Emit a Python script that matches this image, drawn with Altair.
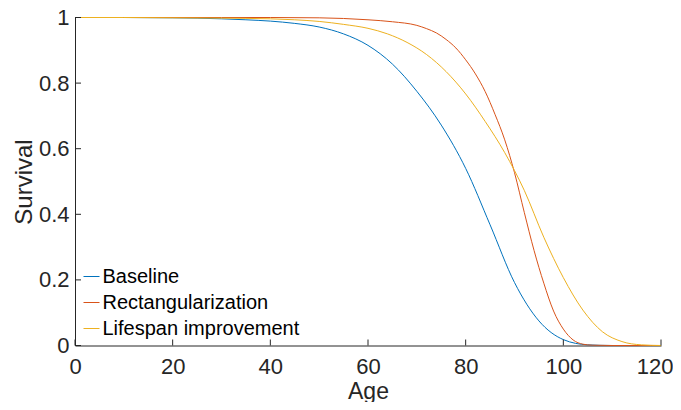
import altair as alt
import pandas as pd

series_names = ["Baseline", "Rectangularization", "Lifespan improvement"]
series_colors = ["#0072BD", "#D95319", "#EDB120"]

ages_baseline = [0, 10, 20, 25, 30, 35, 40, 45, 50, 55, 60, 65, 70, 75, 80, 85, 90, 95, 100, 105, 110, 115, 120]
surv_baseline = [1.0, 1.0, 0.999, 0.998, 0.996, 0.993, 0.989, 0.982, 0.971, 0.950, 0.915, 0.858, 0.775,
                 0.672, 0.540, 0.368, 0.192, 0.075, 0.018, 0.002, 0.0, 0.0, 0.0]

ages_rect = [0, 10, 20, 30, 40, 50, 55, 60, 65, 70, 72, 74, 76, 78, 80, 82, 84, 86, 88, 90, 92, 94, 96,
             98, 100, 102, 104, 106, 110, 120]
surv_rect = [1.0, 1.0, 1.0, 1.0, 1.0, 0.999, 0.997, 0.993, 0.987, 0.976, 0.966, 0.953, 0.933, 0.907,
             0.871, 0.828, 0.774, 0.705, 0.627, 0.527, 0.406, 0.290, 0.190, 0.105, 0.050, 0.017,
             0.004, 0.001, 0.0, 0.0]

ages_life = [0, 10, 20, 30, 40, 45, 50, 55, 60, 64, 68, 72, 76, 80, 84, 88, 92, 96, 100, 104, 108,
             112, 116, 120]
surv_life = [1.0, 1.0, 0.999, 0.998, 0.996, 0.993, 0.988, 0.979, 0.967, 0.950, 0.924, 0.887, 0.835,
             0.767, 0.683, 0.588, 0.473, 0.330, 0.207, 0.108, 0.042, 0.012, 0.002, 0.0]

x_ticks = [0, 20, 40, 60, 80, 100, 120]
y_ticks = [0, 0.2, 0.4, 0.6, 0.8, 1]

rows = []
for name, ages, surv in zip(series_names,
                            [ages_baseline, ages_rect, ages_life],
                            [surv_baseline, surv_rect, surv_life]):
    for a, s in zip(ages, surv):
        rows.append({"series": name, "age": a, "survival": s})
df = pd.DataFrame(rows)

W, H = 586, 328
FONT = "Liberation Sans"
AX = "#262626"

xscale = alt.Scale(domain=[0, 120], nice=False)
yscale = alt.Scale(domain=[0, 1], nice=False)

x_axis = alt.Axis(values=x_ticks, title="Age", ticks=False, grid=False,
                  labelFlush=False, labelOverlap=False,
                  labelAlign={"condition": {"test": "datum.value >= 120", "value": "right"},
                              "value": "center"},
                  labelOffset={"condition": {"test": "datum.value >= 120", "value": 12},
                               "value": 0},
                  labelPadding=10.5, labelFontSize=22, labelFont=FONT, labelColor=AX,
                  domainColor=AX, titleFontSize=23, titleFont=FONT, titleColor=AX,
                  titleFontWeight="normal", titleBaseline="alphabetic", titleY=52.5)
y_axis = alt.Axis(values=y_ticks, format="~g", title="Survival", ticks=False, grid=False,
                  labelFlush=False, labelOverlap=False,
                  labelPadding=6, labelFontSize=22, labelFont=FONT, labelColor=AX,
                  domainColor=AX, titleFontSize=24, titleFont=FONT, titleColor=AX,
                  titleFontWeight="normal", titleBaseline="alphabetic",
                  titleX=-44, titleY=H / 2)

lines = alt.Chart(df).mark_line(strokeWidth=1, interpolate="monotone").encode(
    x=alt.X("age:Q", scale=xscale, axis=x_axis),
    y=alt.Y("survival:Q", scale=yscale, axis=y_axis),
    color=alt.Color("series:N", sort=series_names,
                    scale=alt.Scale(domain=series_names, range=series_colors),
                    legend=alt.Legend(title=None, orient="none", legendX=6.5, legendY=249,
                                      symbolType="stroke", symbolSize=256, symbolStrokeWidth=1,
                                      labelFontSize=20, labelFont=FONT, labelColor="#000000",
                                      labelLimit=0, labelOffset=1, rowPadding=6, padding=0)),
)

xt = pd.DataFrame({"age": x_ticks})
yt = pd.DataFrame({"survival": y_ticks})

xtick_rules = alt.Chart(xt).mark_rule(color=AX, strokeWidth=1).encode(
    x=alt.X("age:Q", scale=xscale, axis=x_axis),
    y=alt.value(H), y2=alt.value(H - 6))
ytick_rules = alt.Chart(yt).mark_rule(color=AX, strokeWidth=1).encode(
    y=alt.Y("survival:Q", scale=yscale, axis=y_axis),
    x=alt.value(0), x2=alt.value(6))

chart = alt.layer(lines, xtick_rules, ytick_rules).properties(
    width=W, height=H,
    autosize=alt.AutoSizeParams(type="none"),
    padding={"left": 67, "top": 9.5, "right": 12, "bottom": 56.5},
).configure_view(stroke=None)

chart.save("out.html", embed_options={"renderer": "svg", "actions": False})
